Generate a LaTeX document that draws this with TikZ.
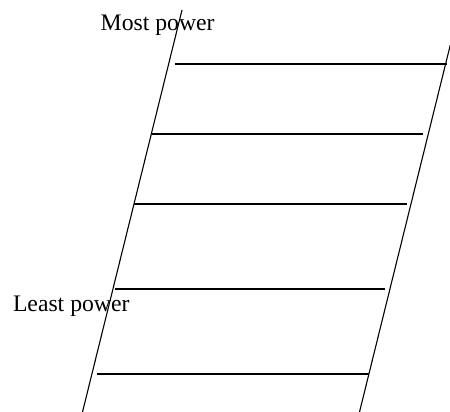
\documentclass[tikz,border=0pt]{standalone}
\usepackage{fontspec}
\setmainfont{Liberation Serif}
\begin{document}
\begin{tikzpicture}[x=1pt,y=-1pt,
  rail/.style={line width=1.1pt, line cap=butt},
  rung/.style={line width=1.4pt},
  lbl/.style={anchor=base west, inner sep=0pt, font=\fontsize{23.7}{26}\selectfont}]
\useasboundingbox (0,0) rectangle (450,412);
% rails
\coordinate (lt) at (182,10);
\coordinate (lb) at (82.5,412);
\coordinate (rt) at (450.3,45);
\coordinate (rb) at (359.5,412);
\draw[rail] (lt) -- (lb);
\draw[rail] (rt) -- (rb);
% rungs
\coordinate (a1) at (175,64);   \coordinate (b1) at (447,64);
\coordinate (a2) at (152,134);  \coordinate (b2) at (423.3,134);
\coordinate (a3) at (134,204);  \coordinate (b3) at (406.7,204);
\coordinate (a4) at (115,289);  \coordinate (b4) at (385,289);
\coordinate (a5) at (97,374);   \coordinate (b5) at (369,374);
\foreach \i in {1,...,5} { \draw[rung] (a\i) -- (b\i); }
% labels
\node[lbl] (most) at (100.5,30.7) {Most power};
\node[lbl] (least) at (12.8,311.7) {Least power};
\end{tikzpicture}
\end{document}
